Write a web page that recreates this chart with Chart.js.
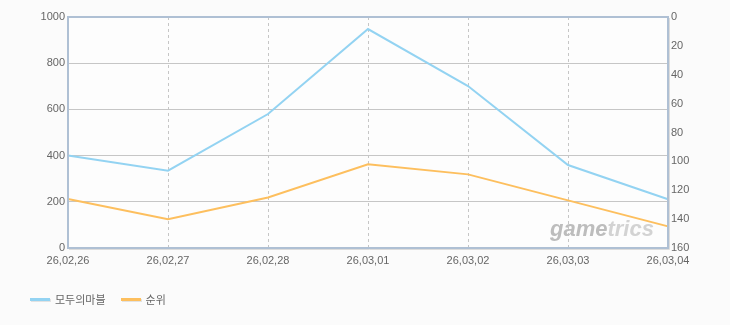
<!DOCTYPE html>
<html><head><meta charset="utf-8">
<script src="https://cdn.jsdelivr.net/npm/chart.js@4/dist/chart.umd.min.js"></script>
<style>
html,body{margin:0;padding:0;background:#fbfbfb;}
#wrap{position:relative;width:730px;height:325px;overflow:hidden;}
#legend{position:absolute;left:30px;top:291px;font:11px "Noto Sans CJK KR",sans-serif;color:#666;display:flex;align-items:center;}
.item{display:flex;align-items:center;margin-right:15px;}
.sw{width:20px;height:3px;margin-right:5px;box-shadow:1px 1px 0 #e2e2e2;}
</style></head><body>
<div id="wrap"><canvas id="c" width="730" height="325"></canvas>
<div id="legend"></div></div>
<script>
const categories = ["26,02,26","26,02,27","26,02,28","26,03,01","26,03,02","26,03,03","26,03,04"];
const seriesNames = ["모두의마블","순위"];
const playerValues = [400,335,580,948,701,359,211];
const rankValues = [126,140,125,102,109,127,145];
const leftTicks = [0,200,400,600,800,1000];
const rightTicks = [0,20,40,60,80,100,120,140,160];
const seriesColors = ["#93d3f2","#fdbf5e"];

const legendEl = document.getElementById('legend');
seriesNames.forEach((n,i)=>{
  const it=document.createElement('div');it.className='item';
  const sw=document.createElement('span');sw.className='sw';sw.style.background=seriesColors[i];
  const t=document.createElement('span');t.textContent=n;
  it.appendChild(sw);it.appendChild(t);legendEl.appendChild(it);
});

const bgPlugin={id:'bg',
  beforeDraw(chart){const {ctx,chartArea:a}=chart;ctx.save();
    ctx.fillStyle='#fbfbfb';ctx.fillRect(0,0,chart.width,chart.height);
    ctx.fillStyle='#fdfdfd';ctx.fillRect(a.left,a.top,a.right-a.left,a.bottom-a.top);ctx.restore();},
  beforeDatasetsDraw(chart){const {ctx,chartArea:a}=chart;ctx.save();
    ctx.font='italic bold 22px "Liberation Sans", Arial, sans-serif';ctx.textBaseline='alphabetic';
    const x=a.right-118,y=a.bottom-12;
    ctx.fillStyle='#bdbdbd';ctx.fillText('game',x,y);
    const w=ctx.measureText('game').width;
    ctx.fillStyle='#d3d3d3';ctx.fillText('trics',x+w,y);
    ctx.restore();},
  afterDraw(chart){const {ctx,chartArea:a}=chart;ctx.save();
    ctx.strokeStyle='#dcdcdc';ctx.lineWidth=1;
    ctx.beginPath();ctx.moveTo(a.left+1,a.bottom+1.5);ctx.lineTo(a.right+1.5,a.bottom+1.5);ctx.lineTo(a.right+1.5,a.top+1);ctx.stroke();
    ctx.strokeStyle='#afc0d4';ctx.lineWidth=2;
    ctx.strokeRect(a.left,a.top,a.right-a.left,a.bottom-a.top);ctx.restore();}
};

const tickFont={family:'"Liberation Sans", Arial, sans-serif',size:11};
new Chart(document.getElementById('c'),{
  type:'line',
  data:{labels:categories,datasets:[
    {label:seriesNames[0],data:playerValues,yAxisID:'y',borderColor:seriesColors[0],borderWidth:2,pointRadius:0,tension:0,fill:false},
    {label:seriesNames[1],data:rankValues,yAxisID:'y1',borderColor:seriesColors[1],borderWidth:2,pointRadius:0,tension:0,fill:false}
  ]},
  options:{responsive:false,animation:false,
    layout:{padding:{top:17,left:0,right:0,bottom:0}},
    plugins:{legend:{display:false},tooltip:{enabled:false}},
    scales:{
      x:{offset:false,grid:{color:'#c6c6c6',drawTicks:false},border:{display:false,dash:[3,3]},
        ticks:{color:'#666',font:tickFont,padding:6,maxRotation:0,autoSkip:false},
        afterFit(s){s.height=77;}},
      y:{position:'left',min:0,max:1000,afterBuildTicks(s){s.ticks=leftTicks.map(v=>({value:v}));},
        grid:{color:'#c6c6c6',drawTicks:false},border:{display:false},
        ticks:{color:'#666',font:tickFont,padding:3,callback:v=>String(v)},afterFit(s){s.width=68;}},
      y1:{position:'right',min:0,max:160,reverse:true,afterBuildTicks(s){s.ticks=rightTicks.map(v=>({value:v}));},
        grid:{display:false,drawTicks:false},border:{display:false},
        ticks:{color:'#666',font:tickFont,padding:3,callback:v=>String(v)},afterFit(s){s.width=62;}}
    }
  },
  plugins:[bgPlugin]
});
</script>
</body></html>
